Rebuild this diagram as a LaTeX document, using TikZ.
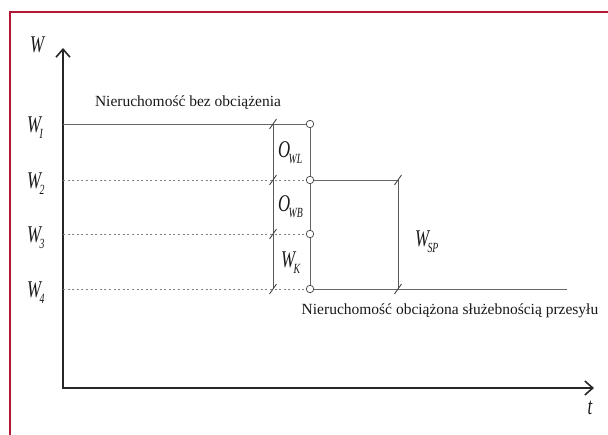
\documentclass[tikz,border=0pt]{standalone}
\usepackage{fontspec}
\setmainfont{Liberation Serif}
\usetikzlibrary{arrows.meta}
% symbol with a lowered subscript, narrow like the print
\newcommand\symsub[2]{\scalebox{0.7}[1]{#1\kern-0.1em\raisebox{-0.55ex}{\fontsize{14}{14}\selectfont #2}}}
\newcommand\symone[1]{\scalebox{0.7}[1]{#1}}
\begin{document}
\begin{tikzpicture}[x=1pt,y=-1pt,
  axis/.style={line width=1.6pt, black!85, {Straight Barb[length=8pt,width=14pt,line width=1.6pt]}-{Straight Barb[length=8pt,width=14pt,line width=1.6pt]}},
  level/.style={line width=0.75pt, black!60},
  guide/.style={line width=0.8pt, black!50, dash pattern=on 2pt off 2.6pt},
  dim/.style={line width=0.75pt, black!65},
  tick/.style={line width=0.85pt, black!75},
  joint/.style={circle, draw=black!70, fill=white, line width=0.75pt, inner sep=0pt, minimum size=7.5pt},
  sym/.style={font=\fontsize{24}{24}\selectfont\itshape, inner sep=0pt, text=black!90},
  caption/.style={font=\fontsize{15.5}{15.5}\selectfont, inner sep=0pt, text=black!90}
]
\useasboundingbox (0,0) rectangle (608,435);

% frame
\draw[line width=2.6pt, color={rgb,255:red,178;green,24;blue,52}] (10,445) -- (10,12) -- (620,12);

% axes
\coordinate (ytop) at (63,48);
\coordinate (O) at (63,388);
\coordinate (xend) at (594,388);
\draw[axis] (ytop) -- (O) -- (xend);

% levels on the value axis
\coordinate (a1) at (63,124);
\coordinate (a2) at (63,180);
\coordinate (a3) at (63,234);
\coordinate (a4) at (63,289);

% dimension points
\coordinate (d1) at (273,124);
\coordinate (d2) at (273,180);
\coordinate (d3) at (273,234);
\coordinate (d4) at (273,289);
\coordinate (s2) at (398,180);
\coordinate (s4) at (398,289);
\coordinate (e4) at (567,289);

% joints
\node[joint] (j1) at (310,124) {};
\node[joint] (j2) at (310,180) {};
\node[joint] (j3) at (310,234) {};
\node[joint] (j4) at (310,289) {};

% level lines
\draw[level] (a1) -- (j1);
\draw[guide] (a2) -- (j2);
\draw[guide] (a3) -- (j3);
\draw[guide] (a4) -- (j4);
\draw[level] (j1) -- (j2) -- (j3) -- (j4);
\draw[level] (j2) -- (s2);
\draw[level] (j4) -- (e4);

% dimension lines
\draw[dim] (d1) -- (d4);
\draw[dim] (s2) -- (s4);
\foreach \p in {d1,d2,d3,d4,s2,s4}
  \draw[tick] ([shift={(-3.5,5)}]\p) -- ([shift={(3.5,-5)}]\p);

% axis labels
\node[sym] (lW) at (37,45) {\symone{W}};
\node[sym] (lt) at (590,408) {\symone{t}};
\node[sym, anchor=west] (l1) at (27,128) {\symsub{W}{I}};
\node[sym, anchor=west] (l2) at (27,184) {\symsub{W}{2}};
\node[sym, anchor=west] (l3) at (27,238) {\symsub{W}{3}};
\node[sym, anchor=west] (l4) at (27,293) {\symsub{W}{4}};

% segment labels
\node[sym, anchor=west] (owl) at (278,153) {\symsub{O}{WL}};
\node[sym, anchor=west] (owb) at (278,207) {\symsub{O}{WB}};
\node[sym, anchor=west] (wk) at (281,263) {\symsub{W}{K}};
\node[sym, anchor=west] (wsp) at (415,242) {\symsub{W}{SP}};

% captions
\node[caption] (c1) at (188,103) {Nieruchomość bez obciążenia};
\node[caption] (c2) at (450,311) {Nieruchomość obciążona służebnością przesyłu};
\end{tikzpicture}
\end{document}
